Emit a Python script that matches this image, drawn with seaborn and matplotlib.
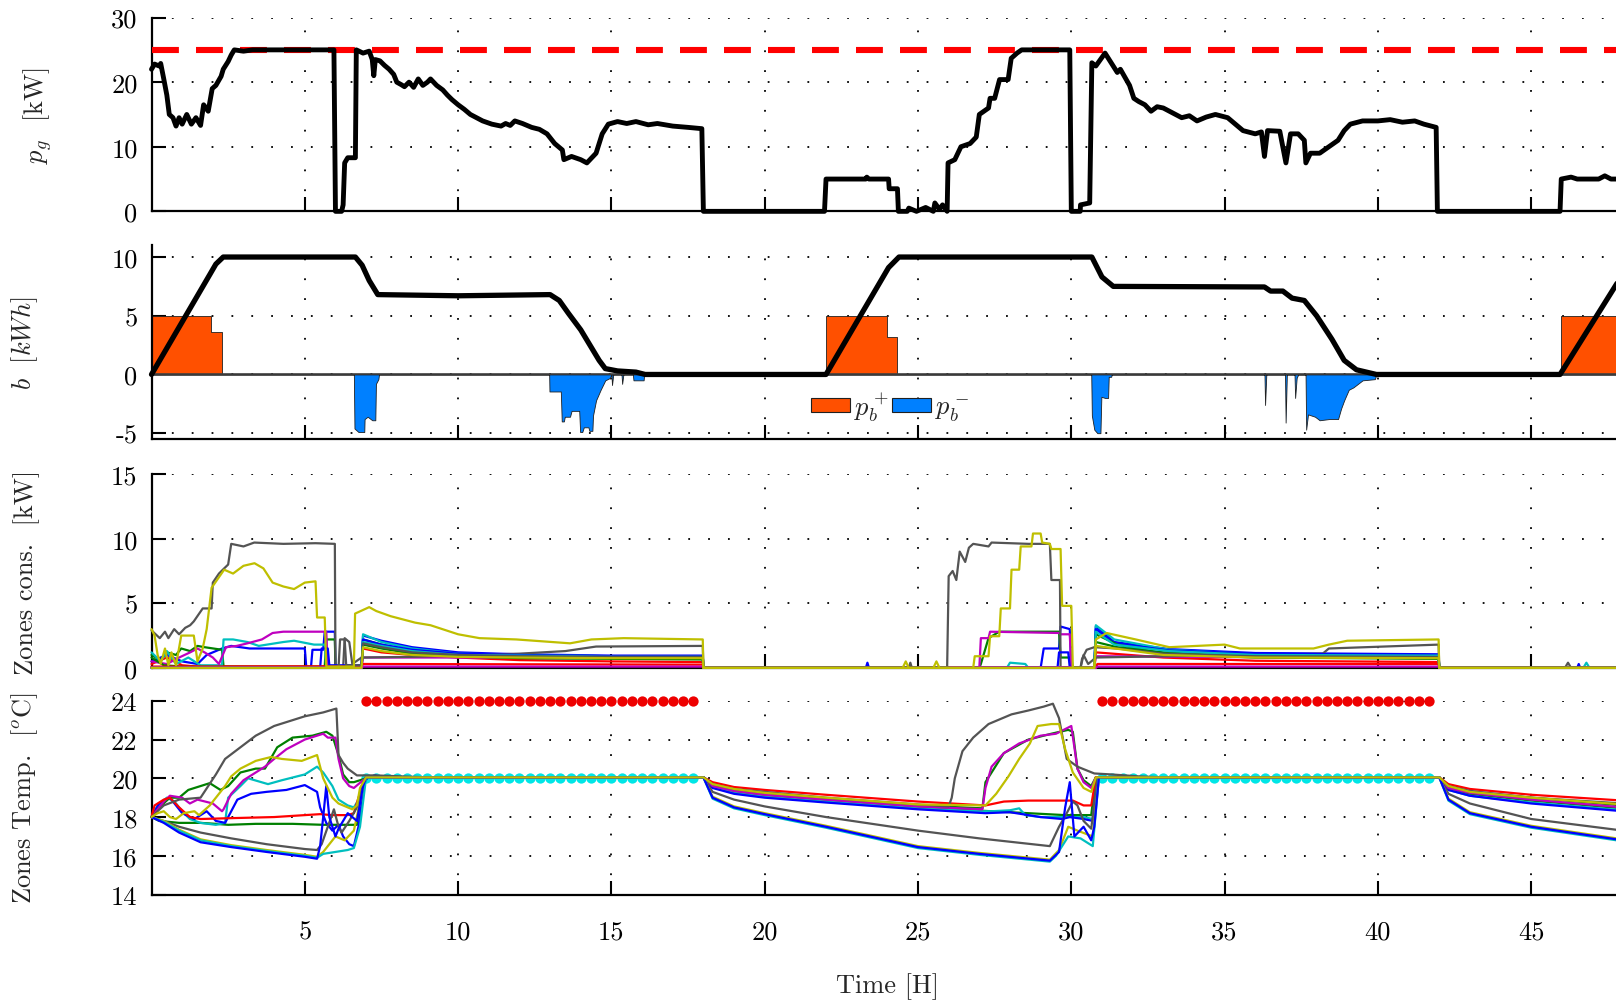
import matplotlib
matplotlib.use('Agg')
from matplotlib import pyplot as plt
from matplotlib.patches import Patch
import seaborn as sns

# ---------------- data (time in hours) ----------------
# grid power p_g [kW]
pg = [(0, 22.0), (0.1, 22.8), (0.25, 22.5), (0.3, 22.9), (0.4, 20.5), (0.5, 18.0), (0.58, 15.0),
      (0.7, 14.5), (0.8, 13.2), (0.9, 14.5), (1.0, 13.5), (1.15, 15.0), (1.3, 13.5), (1.45, 14.5),
      (1.6, 13.3), (1.7, 16.5), (1.85, 15.5), (1.98, 19.0), (2.1, 19.5), (2.27, 20.9), (2.34, 22.0),
      (2.5, 23.2), (2.6, 24.2), (2.7, 25.0), (3.0, 24.8), (3.3, 25.0), (5.95, 25.0), (6.0, 0.0),
      (6.2, 0.0), (6.25, 1.0), (6.3, 7.5), (6.4, 8.3), (6.65, 8.3), (6.68, 25.0), (6.9, 24.5),
      (7.1, 24.8), (7.2, 23.5), (7.25, 21.0), (7.3, 23.5), (7.45, 23.3), (7.6, 22.6), (7.75, 22.0),
      (7.9, 21.2), (8.0, 20.0), (8.15, 19.6), (8.25, 19.3), (8.4, 20.0), (8.55, 19.2), (8.7, 20.5),
      (8.85, 19.5), (9.0, 20.0), (9.1, 20.5), (9.3, 19.5), (9.5, 18.8), (9.65, 18.0), (9.8, 17.3),
      (10.0, 16.5), (10.2, 15.8), (10.4, 15.0), (10.6, 14.5), (10.8, 14.0), (11.1, 13.5), (11.4, 13.2),
      (11.55, 13.6), (11.7, 13.3), (11.85, 14.0), (12.1, 13.6), (12.4, 13.0), (12.65, 12.7), (12.9, 12.0),
      (13.15, 10.5), (13.4, 9.5), (13.45, 8.0), (13.7, 8.5), (14.0, 8.0), (14.2, 7.5), (14.5, 9.0),
      (14.7, 12.0), (14.9, 13.5), (15.2, 13.9), (15.5, 13.6), (15.8, 13.9), (16.2, 13.4), (16.5, 13.6),
      (17.0, 13.2), (17.5, 13.0), (17.95, 12.8), (18.0, 0.0), (21.95, 0.0), (22.0, 5.0), (23.3, 5.0),
      (23.33, 5.3), (23.4, 5.0), (24.04, 5.0), (24.06, 3.5), (24.33, 3.5), (24.36, 0.0), (24.65, 0.0),
      (24.7, 0.5), (24.95, 0.0), (25.25, 0.6), (25.5, 0.0), (25.55, 1.3), (25.7, 0.3), (25.8, 1.0),
      (25.95, 0.0), (25.98, 7.5), (26.2, 8.0), (26.4, 10.0), (26.7, 10.5), (26.9, 11.5), (27.0, 15.0),
      (27.3, 16.0), (27.35, 17.5), (27.5, 17.5), (27.66, 20.4), (27.94, 20.4), (28.04, 23.7),
      (28.23, 24.5), (28.38, 25.0), (29.95, 25.0), (30.0, 0.0), (30.29, 0.0), (30.3, 1.0), (30.6, 1.3),
      (30.67, 23.0), (30.8, 22.5), (30.95, 23.5), (31.1, 24.5), (31.3, 23.0), (31.5, 21.5), (31.6, 22.0),
      (31.9, 19.5), (32.04, 17.5), (32.2, 17.0), (32.4, 16.5), (32.6, 15.5), (32.8, 16.2), (33.0, 16.0),
      (33.2, 15.5), (33.4, 15.0), (33.6, 14.5), (33.85, 14.8), (34.1, 14.0), (34.4, 14.6), (34.7, 15.0),
      (35.1, 14.5), (35.35, 13.5), (35.6, 12.5), (36.0, 12.0), (36.2, 12.3), (36.3, 8.5), (36.4, 12.5),
      (36.8, 12.4), (37.0, 7.5), (37.15, 12.0), (37.4, 12.0), (37.6, 11.0), (37.65, 7.5), (37.8, 9.0),
      (38.1, 9.0), (38.4, 10.0), (38.7, 11.0), (38.9, 12.5), (39.1, 13.5), (39.5, 14.0), (40.0, 14.0),
      (40.4, 14.2), (40.8, 13.8), (41.2, 14.0), (41.5, 13.5), (41.9, 13.0), (41.94, 0.0), (45.94, 0.0),
      (45.98, 5.0), (46.3, 5.3), (46.5, 5.0), (47.2, 5.0), (47.4, 5.5), (47.6, 5.0), (48, 5.0)]
pg_max = 25.0

# battery state b [kWh]
batt = [(0, 0), (1.9, 8.5), (2.1, 9.4), (2.34, 10), (6.65, 10), (6.87, 9.3), (7.1, 8.0), (7.38, 6.8),
        (10, 6.7), (13.0, 6.8), (13.3, 6.3), (13.6, 5.2), (14.0, 3.8), (14.3, 2.5), (14.6, 1.2),
        (14.8, 0.5), (15.2, 0.3), (15.8, 0.2), (16.1, 0), (22.0, 0), (24.04, 9.1), (24.38, 10),
        (30.67, 10), (31.0, 8.3), (31.37, 7.5), (36.3, 7.45), (36.5, 7.1), (36.9, 7.1), (37.2, 6.5),
        (37.6, 6.3), (38.0, 5.0), (38.5, 3.0), (38.9, 1.2), (39.3, 0.4), (39.95, 0), (45.94, 0), (48, 8.6)]

# battery charge p_b+ and discharge p_b-
pb_plus = [(0, 5), (1.94, 5), (1.94, 3.6), (2.3, 3.6), (2.3, 0), (22.0, 0), (22.0, 5), (24.0, 5),
           (24.0, 3.2), (24.32, 3.2), (24.32, 0), (45.98, 0), (45.98, 5), (48, 5)]
pb_minus = [(0, 0), (6.6, 0), (6.62, -4.6), (6.75, -4.9), (6.94, -4.9), (6.95, -3.8), (7.05, -3.6),
            (7.2, -3.9), (7.3, -3.9), (7.32, -0.8), (7.4, -0.4), (7.42, 0), (12.97, 0), (12.98, -1.45),
            (13.35, -1.45), (13.38, -4.0), (13.45, -4.0), (13.48, -3.6), (13.65, -3.6), (13.7, -3.1),
            (13.95, -3.1), (13.98, -4.9), (14.05, -4.9), (14.1, -4.5), (14.25, -4.5), (14.28, -4.8),
            (14.38, -4.8), (14.4, -3.5), (14.5, -2.2), (14.65, -1.3), (14.8, -0.5), (14.95, -0.3),
            (15.0, 0), (15.02, -0.9), (15.06, 0), (15.33, 0), (15.35, -0.8), (15.39, 0), (15.7, 0),
            (15.72, -0.5), (16.05, -0.5), (16.07, 0), (30.65, 0), (30.67, -3.5), (30.75, -4.7),
            (30.85, -5.0), (30.95, -5.0), (30.98, -1.9), (31.1, -2.0), (31.2, -2.0), (31.22, -0.2),
            (31.3, -0.2), (31.32, 0), (36.3, 0), (36.32, -2.6), (36.36, 0), (36.97, 0), (36.99, -4.1),
            (37.03, 0), (37.28, 0), (37.3, -2.0), (37.35, -0.3), (37.4, 0), (37.64, 0), (37.66, -4.7),
            (37.72, -3.4), (37.95, -3.6), (38.1, -3.9), (38.4, -3.8), (38.7, -3.8), (38.8, -2.9),
            (38.9, -2.2), (39.05, -1.3), (39.2, -1.1), (39.35, -0.8), (39.5, -0.5), (39.9, -0.4),
            (39.95, 0), (48, 0)]

# zone consumption [kW]
cons_b1 = [(0, 0.5), (0.5, 1.0), (1.0, 0.5), (1.5, 0.3), (1.8, 1.0), (2.3, 1.5), (2.6, 1.7), (3.2, 1.5),
           (5.0, 1.5), (5.05, 0), (5.2, 0), (5.25, 1.4), (5.6, 1.4), (5.65, 2.8), (5.98, 2.8), (6.0, 0),
           (6.85, 0), (6.9, 2.5), (7.5, 2.1), (8.5, 1.6), (10, 1.2), (12, 1.05), (15, 0.95), (17.98, 0.95),
           (18, 0), (23.3, 0), (23.35, 0.4), (23.4, 0), (29.0, 0), (29.1, 1.5), (29.6, 1.5), (29.65, 3.2),
           (29.95, 3.0), (30.0, 0), (30.75, 0), (30.8, 3.2), (31.4, 2.0), (33.2, 1.45), (36, 1.15),
           (41.98, 1.05), (42, 0), (46.5, 0), (46.55, 0.3), (46.6, 0), (48, 0)]
cons_g1 = [(0, 1.0), (0.3, 0.6), (0.5, 1.2), (0.8, 1.0), (0.97, 1.5), (1.26, 1.3), (1.5, 1.7), (1.73, 1.6),
           (2.3, 1.4), (2.35, 0.1), (5.65, 0.1), (5.7, 2.2), (5.98, 2.2), (6.0, 0), (6.85, 0), (6.9, 2.2),
           (7.5, 1.8), (8.5, 1.3), (10, 0.95), (12, 0.85), (15, 0.75), (17.98, 0.7), (18, 0), (27.0, 0),
           (27.05, 0.3), (27.3, 2.3), (27.65, 2.8), (29.6, 2.8), (29.65, 0.8), (30.0, 0.8), (30.05, 0),
           (30.75, 0), (30.8, 2.0), (31.5, 1.6), (33, 1.2), (36, 0.85), (41.98, 0.75), (42, 0), (48, 0)]
cons_r1 = [(0, 0.3), (0.5, 0.8), (1.0, 0.2), (1.5, 0.1), (6.85, 0.1), (6.9, 1.5), (7.5, 1.2), (8.5, 1.0),
           (10, 0.8), (12, 0.6), (15, 0.5), (17.98, 0.45), (18, 0), (30.75, 0), (30.8, 1.2), (33, 0.8),
           (36, 0.55), (41.98, 0.45), (42, 0), (48, 0)]
cons_c1 = [(0, 1.2), (0.3, 0.5), (0.5, 1.3), (0.8, 0.3), (1.2, 0.8), (1.6, 0.2), (2.3, 0.2), (2.35, 2.2),
           (2.66, 2.2), (3.13, 2.0), (3.5, 1.7), (4.3, 2.0), (4.65, 2.1), (5.3, 1.8), (5.65, 1.8), (5.7, 0),
           (6.85, 0), (6.9, 2.6), (7.5, 2.0), (8.5, 1.5), (10, 1.1), (12, 1.0), (15, 0.9), (17.98, 0.9),
           (18, 0), (27.9, 0), (28.0, 0.4), (28.5, 0.3), (28.6, 0), (30.75, 0), (30.8, 3.3), (31.4, 2.2),
           (33.2, 1.4), (36, 1.05), (41.98, 0.95), (42, 0), (46.7, 0), (46.8, 0.4), (46.9, 0), (48, 0)]
cons_m1 = [(0, 0.5), (0.5, 0.3), (0.9, 0.8), (1.26, 1.2), (1.5, 1.5), (1.73, 1.2), (2.0, 0.8), (2.2, 0.3),
           (2.43, 1.6), (2.78, 1.7), (3.13, 1.9), (3.6, 2.2), (3.95, 2.7), (4.3, 2.8), (5.7, 2.8), (5.75, 0),
           (6.85, 0), (6.9, 0.8), (17.98, 0.8), (18, 0), (27.0, 0), (27.05, 2.3), (27.3, 2.3), (27.35, 2.8),
           (29.6, 2.7), (29.65, 2.6), (29.95, 2.6), (30.0, 0), (30.75, 0), (30.8, 0.9), (41.98, 0.75),
           (42, 0), (48, 0)]
cons_y1 = [(0, 3.0), (0.1, 2.5), (0.2, 1.0), (0.3, 0.3), (0.44, 1.5), (0.55, 0.2), (0.65, 1.2), (0.8, 0.2),
           (0.97, 2.5), (1.38, 2.5), (1.5, 0.5), (1.67, 1.5), (1.8, 3.0), (1.96, 6.2), (2.37, 7.6),
           (2.66, 7.3), (3.0, 7.9), (3.36, 8.1), (3.65, 7.7), (3.95, 6.6), (4.3, 6.3), (4.65, 6.1),
           (5.0, 6.6), (5.35, 6.7), (5.4, 3.9), (5.65, 3.9), (5.7, 0.1), (6.6, 0.1), (6.64, 4.2),
           (7.1, 4.7), (7.33, 4.4), (7.8, 4.0), (8.6, 3.5), (9.1, 3.3), (10.0, 2.6), (10.7, 2.3),
           (11.9, 2.2), (13.65, 1.9), (14.35, 2.2), (15.4, 2.3), (17.98, 2.2), (18, 0), (24.5, 0),
           (24.6, 0.5), (24.7, 0), (25.5, 0), (25.6, 0.5), (25.7, 0), (26.8, 0), (26.85, 0.9), (27.3, 0.9),
           (27.35, 2.45), (27.65, 2.45), (27.7, 4.6), (28.0, 4.6), (28.05, 7.6), (28.3, 7.6), (28.35, 9.4),
           (28.7, 9.4), (28.75, 10.4), (29.0, 10.4), (29.05, 9.7), (29.3, 9.6), (29.35, 9.2), (29.65, 9.2),
           (29.7, 4.8), (30.0, 4.8), (30.05, 0), (30.75, 0), (30.8, 2.2), (31.15, 2.7), (32.1, 2.2),
           (33.2, 1.6), (35.0, 1.8), (35.5, 1.5), (37.9, 1.5), (38.4, 1.8), (39.0, 2.1), (41.98, 2.2),
           (42, 0), (48, 0)]
cons_k1 = [(0, 2.9), (0.27, 2.3), (0.44, 2.8), (0.55, 2.3), (0.74, 3.0), (0.9, 2.6), (1.1, 3.1),
           (1.26, 3.3), (1.38, 3.6), (1.67, 4.6), (1.96, 4.6), (2.0, 6.6), (2.2, 7.3), (2.37, 7.7),
           (2.5, 8.0), (2.6, 9.6), (3.0, 9.4), (3.35, 9.7), (4.3, 9.6), (5.35, 9.65), (5.98, 9.6), (6.0, 0),
           (6.25, 0), (6.3, 2.3), (6.45, 2.0), (6.55, 0.3), (6.85, 0.8), (8.4, 0.85), (10.5, 1.0),
           (12.0, 1.1), (13.5, 1.3), (14.5, 1.65), (17.98, 1.7), (18.0, 0), (24.7, 0), (24.75, 0.4),
           (24.8, 0), (25.95, 0), (26.0, 7.1), (26.13, 7.5), (26.25, 6.8), (26.36, 9.0), (26.54, 8.2),
           (26.66, 9.3), (26.8, 9.6), (27.3, 9.4), (27.4, 9.7), (28.6, 9.6), (29.3, 9.6), (29.35, 6.8),
           (29.63, 6.8), (29.65, 0), (30.3, 0), (30.4, 1.0), (30.55, 0.3), (30.8, 0.8), (33, 0.9),
           (36, 1.0), (38.2, 1.1), (38.4, 1.5), (41.98, 1.8), (42.0, 0), (46.1, 0), (46.2, 0.4), (46.3, 0),
           (48, 0)]
cons_b2 = [(0, 0), (5.5, 0), (5.55, 1.5), (5.75, 1.5), (5.8, 0.2), (6.85, 0.2), (6.9, 2.2), (7.5, 1.8),
           (8.5, 1.4), (10, 1.1), (12, 1.0), (15, 0.9), (17.98, 0.9), (18, 0), (29.55, 0), (29.6, 1.2),
           (29.9, 1.2), (29.95, 0), (30.75, 0), (30.8, 3.0), (31.4, 1.9), (33.2, 1.35), (36, 1.1),
           (41.98, 1.0), (42, 0), (48, 0)]
cons_g2 = [(0, 0.8), (0.4, 0.2), (1.0, 0.1), (6.85, 0), (6.9, 1.8), (7.5, 1.5), (8.5, 1.1), (10, 0.9),
           (12, 0.75), (15, 0.7), (17.98, 0.65), (18, 0), (30.75, 0), (30.8, 2.6), (31.5, 1.8), (33, 1.1),
           (36, 0.8), (41.98, 0.7), (42, 0), (48, 0)]
cons_r2 = [(0, 0.1), (6.85, 0.1), (6.9, 0.3), (17.98, 0.25), (18, 0), (30.8, 0), (30.85, 0.3),
           (41.98, 0.3), (42, 0), (48, 0)]
cons_c2 = [(0, 0), (6.85, 0), (6.9, 2.0), (7.5, 1.7), (8.5, 1.3), (10, 1.0), (12, 0.95), (15, 0.85),
           (17.98, 0.85), (18, 0), (30.75, 0), (30.8, 2.8), (31.4, 1.8), (33.2, 1.3), (36, 1.0),
           (41.98, 0.95), (42, 0), (48, 0)]
cons_m2 = [(0, 0.05), (6.0, 0.05), (6.05, 0), (6.85, 0), (6.9, 0.1), (17.98, 0.1), (18, 0), (26.0, 0),
           (26.05, 0.05), (30.0, 0.05), (30.05, 0), (30.8, 0), (30.85, 0.1), (41.98, 0.1), (42, 0), (48, 0)]
cons_k2 = [(0, 0), (6.1, 0), (6.15, 2.2), (6.3, 2.2), (6.35, 0.2), (6.85, 0.2), (6.9, 1.9), (7.5, 1.6),
           (8.5, 1.2), (10, 1.0), (12, 0.9), (15, 0.85), (17.98, 0.85), (18, 0), (30.3, 0), (30.35, 0.7),
           (30.5, 1.4), (30.75, 1.6), (31.5, 1.5), (33, 1.1), (36, 0.9), (41.98, 0.85), (42, 0), (48, 0)]
cons_y2 = [(0, 0), (6.85, 0), (6.9, 1.6), (7.5, 1.3), (8.5, 1.0), (10, 0.85), (12, 0.8), (15, 0.75),
           (17.98, 0.75), (18, 0), (30.75, 0), (30.8, 1.7), (33, 1.0), (36, 0.8), (41.98, 0.75), (42, 0),
           (48, 0)]

# zone temperatures [degC]
temp_b1 = [(0, 18.0), (0.25, 18.7), (0.6, 19.0), (1.0, 18.2), (1.4, 17.9), (1.8, 18.3), (2.1, 17.8),
           (2.4, 17.7), (2.8, 18.9), (3.25, 19.2), (3.75, 19.3), (4.4, 19.4), (5.0, 19.65), (5.4, 19.3),
           (5.5, 18.5), (5.7, 17.7), (5.9, 17.3), (6.1, 17.6), (6.25, 17.0), (6.45, 16.6), (6.6, 16.5),
           (6.75, 17.5), (6.95, 19.8), (7.05, 20.05), (7.3, 20.15), (7.5, 20.05), (18.0, 20.05),
           (18.3, 19.5), (19, 19.2), (20, 19.0), (22, 18.75), (25, 18.4), (27.2, 18.2), (28.0, 18.25),
           (29.0, 18.0), (29.7, 17.9), (29.95, 18.0), (30.4, 17.9), (30.7, 17.8), (30.85, 20.05),
           (42.0, 20.05), (42.3, 19.4), (43, 19.1), (45, 18.7), (48, 18.3)]
temp_g1 = [(0, 18.0), (0.25, 18.5), (0.6, 19.0), (0.9, 19.0), (1.2, 19.4), (1.6, 19.6), (1.9, 19.75),
           (2.25, 19.4), (2.5, 19.6), (2.9, 20.3), (3.4, 20.5), (3.7, 20.5), (4.1, 21.6), (4.6, 22.1),
           (5.25, 22.2), (5.7, 22.4), (5.9, 22.2), (6.1, 21.2), (6.25, 20.2), (6.45, 19.8), (6.6, 19.8),
           (6.9, 19.95), (7.1, 20.05), (18.0, 20.05), (18.3, 19.65), (19, 19.4), (20, 19.2), (22, 18.95),
           (25, 18.6), (27.1, 18.45), (27.2, 19.8), (27.8, 21.3), (28.6, 22.0), (29.35, 22.3), (29.9, 22.5),
           (30.05, 22.4), (30.2, 20.5), (30.4, 19.9), (30.65, 19.6), (30.8, 20.05), (42.0, 20.05),
           (42.3, 19.55), (43, 19.3), (45, 19.0), (48, 18.6)]
temp_r1 = [(0, 18.0), (0.1, 18.6), (0.4, 18.9), (0.6, 19.0), (0.9, 18.5), (1.25, 18.0), (1.6, 17.9),
           (2.75, 17.95), (4.0, 18.0), (5.0, 18.1), (5.5, 18.15), (5.9, 18.1), (6.4, 18.1), (6.6, 18.2),
           (6.75, 19.0), (7.0, 20.05), (18.0, 20.05), (18.3, 19.8), (19, 19.55), (20, 19.4), (22, 19.15),
           (25, 18.8), (27.2, 18.6), (27.8, 18.8), (28.6, 18.85), (30.05, 18.85), (30.4, 18.6),
           (30.65, 18.6), (30.8, 20.05), (42.0, 20.05), (42.3, 19.7), (43, 19.45), (45, 19.15), (48, 18.85)]
temp_c1 = [(0, 18.0), (0.2, 18.6), (0.5, 19.0), (0.75, 18.8), (1.0, 18.3), (1.25, 17.9), (1.6, 17.7),
           (2.1, 17.6), (2.4, 17.7), (2.5, 19.0), (2.9, 19.6), (3.15, 20.0), (3.8, 19.7), (4.25, 19.9),
           (5.0, 20.2), (5.4, 20.6), (5.6, 20.3), (5.9, 19.6), (6.1, 18.9), (6.4, 18.6), (6.6, 18.5),
           (6.8, 19.0), (7.0, 20.05), (18.0, 20.05), (18.3, 19.55), (19, 19.25), (20, 19.05), (22, 18.8),
           (25, 18.45), (27.0, 18.3), (27.4, 18.3), (28.0, 18.35), (28.3, 18.45), (28.5, 18.1), (29.0, 18.0),
           (30.4, 18.0), (30.7, 17.9), (30.85, 20.05), (42.0, 20.05), (42.3, 19.4), (43, 19.1), (45, 18.75),
           (48, 18.35)]
temp_m1 = [(0, 18.0), (0.4, 18.8), (0.6, 19.1), (1.0, 19.0), (1.25, 18.7), (1.5, 18.9), (2.0, 18.7),
           (2.3, 18.3), (2.35, 18.4), (2.6, 19.2), (3.0, 19.9), (3.3, 20.2), (3.7, 20.6), (4.0, 21.0),
           (4.4, 21.5), (5.0, 22.0), (5.6, 22.3), (5.75, 22.1), (6.0, 22.1), (6.1, 21.0), (6.25, 20.0),
           (6.45, 19.6), (6.6, 19.5), (6.9, 19.9), (7.05, 20.05), (18.0, 20.05), (18.3, 19.6), (19, 19.35),
           (20, 19.15), (22, 18.9), (25, 18.55), (27.1, 18.4), (27.2, 19.5), (27.4, 20.6), (27.8, 21.3),
           (28.3, 21.8), (29.0, 22.2), (29.5, 22.3), (30.0, 22.7), (30.2, 20.5), (30.4, 19.8), (30.65, 19.5),
           (30.8, 20.05), (42.0, 20.05), (42.3, 19.5), (43, 19.25), (45, 18.9), (48, 18.5)]
temp_y1 = [(0, 18.0), (0.2, 18.2), (0.4, 18.3), (0.6, 18.0), (0.8, 17.9), (1.05, 18.2), (1.4, 18.3),
           (1.55, 18.1), (1.9, 18.6), (2.1, 19.0), (2.4, 19.6), (2.6, 20.1), (2.9, 20.5), (3.4, 20.9),
           (3.9, 21.1), (4.25, 21.0), (4.9, 20.9), (5.4, 21.2), (5.5, 20.6), (5.6, 20.0), (5.9, 19.0),
           (6.1, 18.7), (6.4, 18.5), (6.55, 18.4), (6.7, 18.6), (6.8, 19.5), (7.0, 20.05), (18.0, 20.05),
           (18.3, 19.7), (19, 19.45), (20, 19.25), (22, 19.0), (25, 18.65), (27.2, 18.6), (27.55, 19.2),
           (27.95, 20.1), (28.3, 21.0), (28.65, 21.8), (28.9, 22.7), (29.35, 22.8), (29.6, 22.8),
           (29.8, 21.5), (30.05, 20.3), (30.4, 19.5), (30.65, 19.3), (30.8, 20.05), (42.0, 20.05),
           (42.3, 19.6), (43, 19.3), (45, 19.0), (48, 18.65)]
temp_k1 = [(0, 18.0), (0.4, 18.6), (0.9, 18.9), (1.6, 19.0), (2.1, 20.2), (2.4, 21.0), (2.9, 21.6),
           (3.4, 22.2), (4.0, 22.7), (5.0, 23.2), (5.6, 23.4), (6.03, 23.6), (6.1, 21.2), (6.25, 20.8),
           (6.4, 20.5), (6.7, 20.15), (7.3, 20.15), (9.0, 20.05), (18.0, 20.05), (18.3, 19.7), (19.0, 19.45),
           (20, 19.3), (22, 19.0), (25, 18.65), (26.0, 18.55), (26.1, 19.0), (26.2, 20.0), (26.45, 21.4),
           (26.8, 22.1), (27.3, 22.8), (28.05, 23.3), (28.6, 23.5), (29.1, 23.7), (29.4, 23.85),
           (29.6, 23.1), (29.85, 21.0), (30.2, 20.6), (30.75, 20.25), (31.3, 20.2), (32.2, 20.1),
           (33, 20.05), (42.0, 20.05), (42.3, 19.6), (43, 19.35), (45, 19.0), (48, 18.7)]
temp_b2 = [(0, 18.0), (0.4, 17.7), (0.9, 17.2), (1.6, 16.7), (2.6, 16.45), (3.75, 16.2), (5.0, 15.95),
           (5.4, 15.85), (5.5, 16.5), (5.6, 18.0), (5.7, 19.6), (5.8, 18.0), (6.0, 17.0), (6.1, 17.4),
           (6.4, 18.2), (6.55, 18.0), (6.7, 17.8), (6.9, 19.6), (7.0, 20.05), (18.0, 20.05), (18.3, 19.0),
           (19, 18.5), (20, 18.15), (22, 17.5), (25, 16.45), (27, 16.1), (29.3, 15.75), (29.6, 16.2),
           (29.8, 18.5), (29.95, 19.8), (30.1, 17.0), (30.4, 17.5), (30.65, 16.8), (30.75, 17.5),
           (30.9, 20.05), (42.0, 20.05), (42.3, 18.9), (43, 18.2), (45, 17.5), (48, 16.8)]
temp_g2 = [(0, 18.0), (0.25, 17.8), (0.9, 17.7), (1.6, 17.7), (2.1, 17.65), (2.5, 17.6), (3.4, 17.65),
           (4.6, 17.65), (5.6, 17.6), (6.4, 17.6), (6.7, 17.6), (6.8, 19.0), (7.0, 20.05), (18.0, 20.05),
           (18.3, 19.6), (19, 19.3), (20, 19.1), (22, 18.85), (25, 18.5), (27.4, 18.3), (28.6, 18.2),
           (29.8, 18.1), (30.65, 18.1), (30.8, 20.05), (42.0, 20.05), (42.3, 19.45), (43, 19.2), (45, 18.85),
           (48, 18.45)]
temp_c2 = [(0, 18.0), (0.4, 17.75), (0.9, 17.3), (1.6, 16.8), (2.6, 16.5), (3.75, 16.25), (5.0, 16.0),
           (5.4, 15.9), (5.6, 16.1), (6.0, 16.2), (6.4, 16.3), (6.6, 16.4), (6.8, 17.5), (7.0, 20.05),
           (18.0, 20.05), (18.3, 18.95), (19, 18.45), (20, 18.1), (22, 17.45), (25, 16.4), (27, 16.05),
           (29.3, 15.7), (29.5, 16.0), (29.9, 17.0), (30.3, 16.9), (30.7, 16.5), (30.9, 20.05),
           (42.0, 20.05), (42.3, 18.85), (43, 18.15), (45, 17.45), (48, 16.75)]
temp_k2 = [(0, 18.0), (0.4, 17.8), (0.9, 17.5), (1.6, 17.2), (2.6, 16.9), (3.75, 16.6), (5.0, 16.35),
           (5.4, 16.3), (5.55, 16.6), (5.75, 17.5), (5.95, 18.4), (6.1, 17.5), (6.2, 17.2), (6.45, 17.8),
           (6.7, 18.5), (6.9, 19.8), (7.0, 20.05), (18.0, 20.05), (18.3, 19.3), (19, 18.9), (20, 18.55),
           (22, 18.0), (25, 17.3), (27, 16.9), (29.3, 16.5), (29.6, 17.5), (29.85, 18.2), (30.05, 18.8),
           (30.2, 18.6), (30.4, 17.8), (30.65, 17.4), (30.85, 20.05), (42.0, 20.05), (42.3, 19.2),
           (43, 18.7), (45, 17.9), (48, 17.3)]
temp_y2 = [(0, 18.0), (0.4, 17.8), (0.9, 17.35), (1.6, 16.85), (2.6, 16.55), (3.75, 16.3), (5.0, 16.05),
           (5.4, 15.95), (5.6, 16.2), (6.0, 17.0), (6.3, 16.8), (6.6, 17.3), (6.9, 19.5), (7.0, 20.05),
           (18.0, 20.05), (18.3, 19.05), (19, 18.55), (20, 18.2), (22, 17.55), (25, 16.5), (27, 16.15),
           (29.3, 15.8), (29.6, 16.3), (29.9, 17.5), (30.2, 17.3), (30.7, 17.0), (30.9, 20.05),
           (42.0, 20.05), (42.3, 18.95), (43, 18.25), (45, 17.55), (48, 16.85)]

# comfort bounds (sampled every 20 minutes during occupancy)
comfort_hours = [7.00, 7.33, 7.67, 8.00, 8.33, 8.67, 9.00, 9.33, 9.67, 10.00, 10.33, 10.67, 11.00,
                 11.33, 11.67, 12.00, 12.33, 12.67, 13.00, 13.33, 13.67, 14.00, 14.33, 14.67, 15.00,
                 15.33, 15.67, 16.00, 16.33, 16.67, 17.00, 17.33, 17.67,
                 31.00, 31.33, 31.67, 32.00, 32.33, 32.67, 33.00, 33.33, 33.67, 34.00, 34.33, 34.67,
                 35.00, 35.33, 35.67, 36.00, 36.33, 36.67, 37.00, 37.33, 37.67, 38.00, 38.33, 38.67,
                 39.00, 39.33, 39.67, 40.00, 40.33, 40.67, 41.00, 41.33, 41.67]
t_upper = 24.0
t_lower = 20.0

x_ticks = [5, 10, 15, 20, 25, 30, 35, 40, 45]

# MATLAB-like colours
C_B, C_G, C_R = (0, 0, 1), (0, 0.5, 0), (1, 0, 0)
C_C, C_M, C_Y, C_K = (0, 0.75, 0.75), (0.75, 0, 0.75), (0.75, 0.75, 0), (0.33, 0.33, 0.33)

cons_lines = [(cons_b1, C_B), (cons_g1, C_G), (cons_r1, C_R), (cons_c1, C_C), (cons_m1, C_M),
              (cons_k1, C_K), (cons_b2, C_B), (cons_g2, C_G), (cons_r2, C_R), (cons_c2, C_C),
              (cons_m2, C_M), (cons_k2, C_K), (cons_y2, C_Y), (cons_y1, C_Y)]
temp_lines = [(temp_g2, C_G), (temp_c1, C_C), (temp_b1, C_B), (temp_g1, C_G), (temp_m1, C_M),
              (temp_r1, C_R), (temp_k1, C_K), (temp_k2, C_K), (temp_y2, C_Y), (temp_c2, C_C),
              (temp_b2, C_B), (temp_y1, C_Y)]

# ---------------- style ----------------
sns.set_style('white')
plt.rcParams['font.family'] = ['cmr10', 'DejaVu Sans']
plt.rcParams['mathtext.fontset'] = 'cm'
plt.rcParams['axes.unicode_minus'] = False
plt.rcParams['font.size'] = 19

FS = 19


def line(ax, pts, color, lw, **kw):
    t, v = zip(*pts)
    sns.lineplot(x=list(t), y=list(v), ax=ax, color=color, linewidth=lw, sort=False,
                 estimator=None, clip_on=False, **kw)


def style(ax, yticks, ylim, ylabel, label_x):
    ax.set_xlim(0, 48)
    ax.set_ylim(*ylim)
    ax.set_xticks(x_ticks)
    ax.set_yticks(yticks, labels=[str(v) for v in yticks])
    ax.tick_params(direction='in', length=10, width=1.5, labelsize=FS, colors='k',
                   top=False, right=False, bottom=True, left=True, pad=10)
    ax.tick_params(axis='x', pad=18)
    for side in ['top', 'right']:
        ax.spines[side].set_visible(False)
    for side in ['left', 'bottom']:
        ax.spines[side].set_color('k')
        ax.spines[side].set_linewidth(1.6)
    ax.grid(True, color='k', linestyle=(0, (1, 10)), linewidth=1.3)
    ax.set_axisbelow(True)
    ax.set_ylabel(ylabel, fontsize=FS)
    ax.yaxis.set_label_coords(label_x, 0.5)
    ax.set_facecolor('none')


fig = plt.figure(figsize=(16.16, 10.04), dpi=100)
L, W, H = 0.09375, 0.9107, 0.193
ax1 = fig.add_axes([L, 0.7885, W, H])
ax2 = fig.add_axes([L, 0.5617, W, H])
ax3 = fig.add_axes([L, 0.3338, W, H])
ax4 = fig.add_axes([L, 0.1080, W, H])

# panel 1: grid power
style(ax1, [0, 10, 20, 30], (0, 30), r'$p_g$  [kW]', -0.066)
ax1.axhline(pg_max, color=(1, 0, 0), linewidth=4.4, dashes=(4.4, 2.8), zorder=3)
line(ax1, pg, 'k', 3.5, zorder=4)

# panel 2: battery
style(ax2, [-5, 0, 5, 10], (-5.5, 11), r'$b\ \ [kWh]$', -0.076)
tp, vp = zip(*pb_plus)
ax2.fill_between(tp, 0, vp, facecolor='#ff5000', edgecolor='#202020', linewidth=0.6, zorder=2,
                 clip_on=False)
tm, vm = zip(*pb_minus)
ax2.fill_between(tm, 0, vm, facecolor='#0080ff', edgecolor='#202020', linewidth=0.6, zorder=2,
                 clip_on=False)
ax2.axhline(0, color='#404040', linewidth=1.2, zorder=2.5)
line(ax2, batt, 'k', 3.8, zorder=4)
handles = [Patch(facecolor='#ff5000', edgecolor='#202020', linewidth=0.8, label=r'$p_b^+$'),
           Patch(facecolor='#0080ff', edgecolor='#202020', linewidth=0.8, label=r'$p_b^-$')]
ax2.legend(handles=handles, loc='center left', bbox_to_anchor=(0.448, 0.17), ncol=2, frameon=False,
           fontsize=FS, handlelength=1.5, handleheight=0.45, handletextpad=0.15, columnspacing=0.1,
           borderpad=0, borderaxespad=0)

# panel 3: zone consumption
style(ax3, [0, 5, 10, 15], (0, 15), 'Zones cons.  [kW]', -0.076)
for pts, col in cons_lines:
    line(ax3, pts, col, 1.6, zorder=3)

# panel 4: zone temperature
style(ax4, [14, 16, 18, 20, 22, 24], (14, 24), r'Zones Temp.  [$^o$C]', -0.076)
sns.scatterplot(x=comfort_hours, y=[t_lower] * len(comfort_hours), ax=ax4, color='#00e6e6', s=55,
                linewidth=0, zorder=2.5, clip_on=False)
for pts, col in temp_lines:
    line(ax4, pts, col, 1.6, zorder=3)
sns.scatterplot(x=comfort_hours, y=[t_upper] * len(comfort_hours), ax=ax4, color='#ee0000', s=55,
                linewidth=0, zorder=5, clip_on=False)

for ax in (ax1, ax2, ax3):
    ax.tick_params(labelbottom=False)
ax4.set_xticks(x_ticks, labels=[str(v) for v in x_ticks])
ax4.set_xlabel('Time [H]', fontsize=FS)
ax4.xaxis.set_label_coords(0.5, -0.40)

fig.savefig('out.png', dpi=100)
